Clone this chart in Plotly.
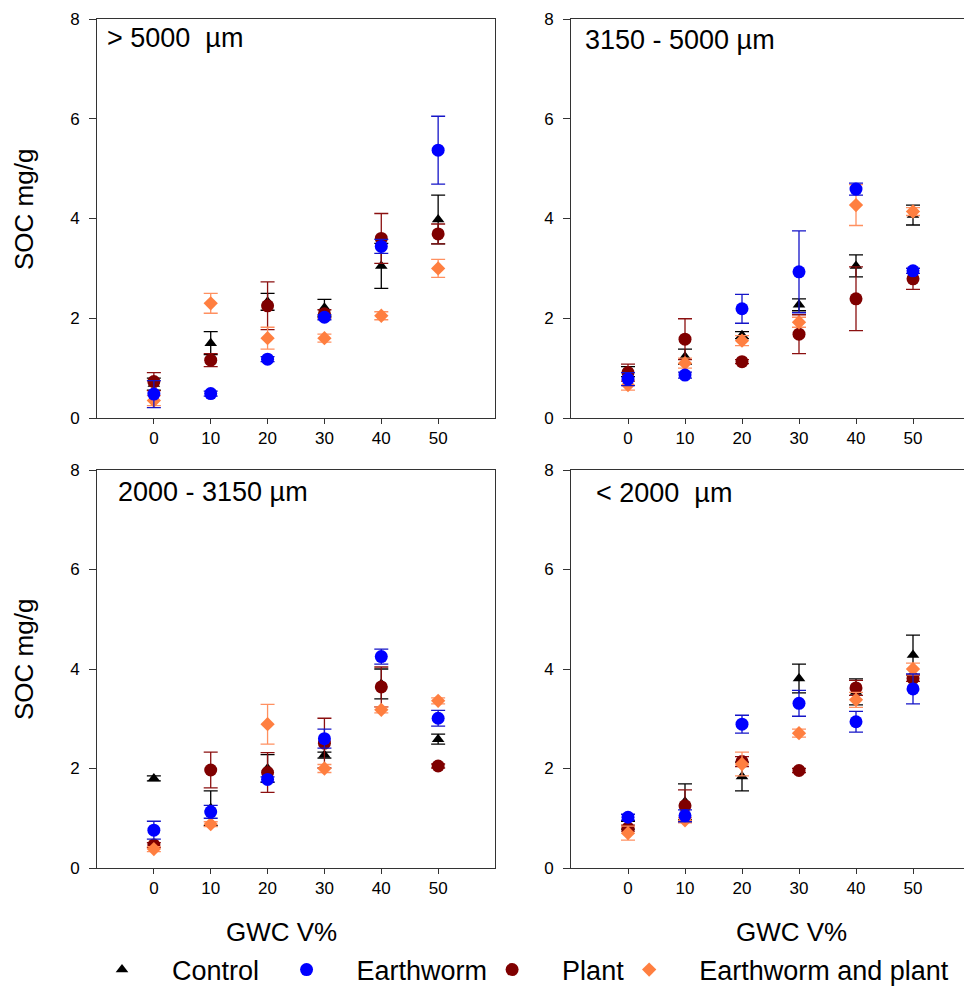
import plotly.graph_objects as go

W, H = 964, 990

gwc = [0, 10, 20, 30, 40, 50]
x_ticks = [0, 10, 20, 30, 40, 50]
y_ticks = [0, 2, 4, 6, 8]

panel_titles = ["> 5000\u00a0\u00a0µm", "3150 - 5000 µm", "2000 - 3150 µm", "< 2000\u00a0\u00a0µm"]

# ---- panel 1: > 5000 um ----
p1_control = [0.68, 1.50, 2.33, 2.21, 3.05, 3.98]
p1_control_err = [0.12, 0.23, 0.17, 0.17, 0.45, 0.49]
p1_earthworm = [0.48, 0.49, 1.18, 2.02, 3.44, 5.37]
p1_earthworm_err = [0.27, 0.05, 0.05, 0.05, 0.14, 0.68]
p1_plant = [0.73, 1.16, 2.25, 2.09, 3.60, 3.69]
p1_plant_err = [0.18, 0.13, 0.48, 0.08, 0.50, 0.20]
p1_both = [0.35, 2.30, 1.60, 1.60, 2.05, 3.00]
p1_both_err = [0.10, 0.20, 0.22, 0.08, 0.08, 0.18]

# ---- panel 2: 3150 - 5000 um ----
p2_control = [0.93, 1.23, 1.66, 2.27, 3.05, 4.07]
p2_control_err = [0.10, 0.15, 0.07, 0.12, 0.22, 0.20]
p2_earthworm = [0.78, 0.86, 2.19, 2.93, 4.59, 2.95]
p2_earthworm_err = [0.13, 0.06, 0.29, 0.82, 0.12, 0.05]
p2_plant = [0.91, 1.58, 1.13, 1.68, 2.39, 2.79]
p2_plant_err = [0.17, 0.41, 0.04, 0.39, 0.64, 0.21]
p2_both = [0.66, 1.10, 1.55, 1.92, 4.27, 4.14]
p2_both_err = [0.10, 0.10, 0.10, 0.10, 0.41, 0.08]

# ---- panel 3: 2000 - 3150 um ----
p3_control = [1.80, 1.20, 2.00, 2.27, 3.70, 2.59]
p3_control_err = [0.05, 0.35, 0.28, 0.06, 0.30, 0.10]
p3_earthworm = [0.76, 1.13, 1.78, 2.60, 4.25, 3.01]
p3_earthworm_err = [0.18, 0.13, 0.05, 0.19, 0.15, 0.16]
p3_plant = [0.46, 1.97, 1.92, 2.51, 3.64, 2.05]
p3_plant_err = [0.05, 0.36, 0.40, 0.50, 0.40, 0.04]
p3_both = [0.38, 0.88, 2.89, 2.00, 3.18, 3.36]
p3_both_err = [0.05, 0.05, 0.40, 0.08, 0.06, 0.06]

# ---- panel 4: < 2000 um ----
p4_control = [0.86, 1.33, 1.84, 3.81, 3.54, 4.28]
p4_control_err = [0.08, 0.36, 0.29, 0.29, 0.26, 0.40]
p4_earthworm = [1.02, 1.05, 2.89, 3.31, 2.94, 3.60]
p4_earthworm_err = [0.06, 0.12, 0.18, 0.26, 0.21, 0.30]
p4_plant = [0.80, 1.25, 2.14, 1.96, 3.62, 3.81]
p4_plant_err = [0.06, 0.32, 0.10, 0.04, 0.15, 0.06]
p4_both = [0.70, 0.96, 2.09, 2.71, 3.38, 4.00]
p4_both_err = [0.14, 0.05, 0.24, 0.08, 0.15, 0.12]

panels = [
    (p1_control, p1_control_err, p1_earthworm, p1_earthworm_err, p1_plant, p1_plant_err, p1_both, p1_both_err),
    (p2_control, p2_control_err, p2_earthworm, p2_earthworm_err, p2_plant, p2_plant_err, p2_both, p2_both_err),
    (p3_control, p3_control_err, p3_earthworm, p3_earthworm_err, p3_plant, p3_plant_err, p3_both, p3_both_err),
    (p4_control, p4_control_err, p4_earthworm, p4_earthworm_err, p4_plant, p4_plant_err, p4_both, p4_both_err),
]

NB = "\u00a0"
# style per series: name, marker symbol, size, marker colour, error colour, legend rank
styles = {
    "control": (NB * 4 + "Control" + NB * 3, "triangle-up", 11, "#000000", "#000000", 1),
    "earthworm": (NB * 4 + "Earthworm", "circle", 13, "#0000FF", "#1515C8", 2),
    "plant": (NB * 4 + "Plant", "circle", 13, "#7F0000", "#8B1010", 3),
    "both": (NB * 4 + "Earthworm and plant", "diamond", 11, "#FF7F40", "#FF9060", 4),
}
# drawing order bottom -> top
draw_order = [("control", 0), ("plant", 4), ("both", 6), ("earthworm", 2)]

fig = go.Figure()

for pi, data in enumerate(panels):
    ax = "" if pi == 0 else str(pi + 1)
    for key, idx in draw_order:
        name, sym, size, col, ecol, rank = styles[key]
        fig.add_trace(go.Scatter(
            x=gwc, y=data[idx], mode="markers", name=name,
            legendgroup=key, showlegend=(pi == 0), legendrank=rank,
            marker=dict(symbol=sym, size=size, color=col, line=dict(width=0)),
            error_y=dict(type="data", array=data[idx + 1], visible=True,
                         color=ecol, thickness=1.3, width=7),
            xaxis="x" + ax, yaxis="y" + ax,
        ))

# panel rectangles in pixels (left, top, right, bottom)
rects = [(97, 19, 495, 418), (571, 19, 964, 418), (97, 470, 495, 868), (571, 470, 964, 868)]
px_per_unit = 5.7

axis_common = dict(showline=True, linecolor="#333333", linewidth=1, mirror=True,
                   ticks="outside", tickcolor="#333333", showgrid=False, zeroline=False,
                   tickfont=dict(family="Arial, Liberation Sans", size=17, color="#000"))

layout = dict(width=W, height=H, margin=dict(l=0, r=0, t=0, b=0, autoexpand=False),
              plot_bgcolor="white", paper_bgcolor="white",
              font=dict(family="Arial, Liberation Sans", color="#000"))

for pi, (l, t, r, b) in enumerate(rects):
    ax = "" if pi == 0 else str(pi + 1)
    xr = [-10, -10 + (r - l) / px_per_unit] if pi in (1, 3) else [-10, 60]
    layout["xaxis" + ax] = dict(axis_common, domain=[l / W, r / W], range=xr,
                                tickvals=x_ticks, ticklen=5, anchor="y" + ax)
    layout["yaxis" + ax] = dict(axis_common, domain=[1 - b / H, 1 - t / H], range=[0, 8],
                                tickvals=y_ticks, ticklen=7, ticklabelstandoff=6,
                                anchor="x" + ax)

fig.update_layout(**layout)

title_pos = [(105, 38), (583, 40), (116, 492), (594, 493)]
for (xp, yp), txt in zip(title_pos, panel_titles):
    fig.add_annotation(text=txt, x=xp / W, y=1 - yp / H, xref="paper", yref="paper",
                       xanchor="left", yanchor="middle", showarrow=False,
                       font=dict(size=27, color="#000"))

for yp in (210, 660):
    fig.add_annotation(text="SOC mg/g", x=24 / W, y=1 - yp / H, xref="paper", yref="paper",
                       textangle=-90, xanchor="center", yanchor="middle", showarrow=False,
                       font=dict(size=26, color="#000"))
for xp in (281, 791):
    fig.add_annotation(text="GWC V%", x=xp / W, y=1 - 932 / H, xref="paper", yref="paper",
                       xanchor="center", yanchor="middle", showarrow=False,
                       font=dict(size=26, color="#000"))

fig.update_layout(legend=dict(orientation="h", x=102 / W, y=1 - 970 / H, xanchor="left",
                              yanchor="middle", font=dict(size=27, color="#000"),
                              bgcolor="rgba(0,0,0,0)", itemsizing="trace",
                              traceorder="normal"))

fig.write_html("out.html", config={"displayModeBar": False},
               post_script="document.body.style.margin='0';")
